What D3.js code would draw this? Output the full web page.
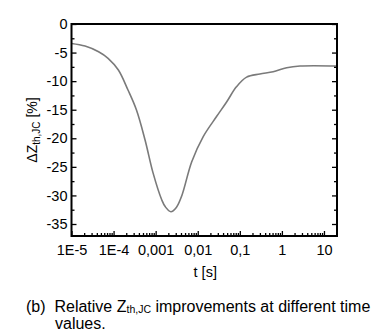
<!DOCTYPE html>
<html><head><meta charset="utf-8">
<script src="https://cdn.jsdelivr.net/npm/d3@7"></script>
<style>
html,body{margin:0;padding:0;background:#fff;}
svg{display:block;font-family:"Liberation Sans",Arial,sans-serif;}
</style></head>
<body><svg id="c" width="386" height="333"></svg>
<script>
// data
const tValues = [1e-5, 2.1e-5, 4.4e-5, 7.4e-5, 1.3e-4, 2.2e-4, 3.5e-4, 5.6e-4, 8.7e-4, 1.4e-3, 1.7e-3, 2.3e-3, 3.1e-3, 4.2e-3, 7.2e-3, 0.0135, 0.028, 0.049, 0.083, 0.145, 0.30, 0.62, 1.3, 2.7, 20.4];
const dZ      = [-3.4, -3.85, -4.85, -6.0, -8.05, -11.55, -15.05, -20.3, -26.1, -30.8, -32.0, -32.85, -32.1, -30.0, -24.1, -19.7, -16.2, -13.6, -11.0, -9.3, -8.75, -8.35, -7.65, -7.35, -7.35];
const xTickValues = [1e-5, 1e-4, 1e-3, 1e-2, 1e-1, 1, 10];
const xTickLabels = ["1E-5", "1E-4", "0,001", "0,01", "0,1", "1", "10"];
const yTickValues = [0, -5, -10, -15, -20, -25, -30, -35];
const yTickLabels = ["0", "-5", "-10", "-15", "-20", "-25", "-30", "-35"];

const svg = d3.select("#c");
const L = 71.5, R = 337, T = 24, B = 236;
const x = d3.scaleLog().domain([1e-5, 20.4]).range([L, R]);
const y = d3.scaleLinear().domain([-37.1, 0]).range([B, T]);

// minor ticks
const xMinor = [];
for (let e = -5; e <= 1; e++) for (let m = 2; m <= 9; m++) { const v = m * Math.pow(10, e); if (v <= 20.4) xMinor.push(v); }
const yMinor = d3.range(-2.5, -37.1, -5);

// curve
svg.append("path")
  .datum(tValues.map((t, i) => [t, dZ[i]]))
  .attr("fill", "none").attr("stroke", "#7a7a7a").attr("stroke-width", 1.6)
  .attr("d", d3.line().x(d => x(d[0])).y(d => y(d[1])).curve(d3.curveCatmullRom.alpha(0.5)));

// bottom axis
svg.append("g").attr("transform", `translate(0,${B})`)
  .call(d3.axisBottom(x).tickValues(xMinor).tickSize(-3).tickFormat(""));
const gx = svg.append("g").attr("transform", `translate(0,${B})`)
  .call(d3.axisBottom(x).tickValues(xTickValues).tickSize(-5).tickPadding(9)
    .tickFormat((d, i) => xTickLabels[i]));
// left axis
svg.append("g").attr("transform", `translate(${L},0)`)
  .call(d3.axisLeft(y).tickValues(yMinor).tickSize(-3).tickFormat(""));
const gy = svg.append("g").attr("transform", `translate(${L},0)`)
  .call(d3.axisLeft(y).tickValues(yTickValues).tickSize(-5).tickPadding(4)
    .tickFormat((d, i) => yTickLabels[i]));
// right axis
svg.append("g").attr("transform", `translate(${R},0)`)
  .call(d3.axisRight(y).tickValues(yTickValues).tickSize(-5).tickFormat(""));
svg.append("g").attr("transform", `translate(${R},0)`)
  .call(d3.axisRight(y).tickValues(yMinor).tickSize(-3).tickFormat(""));

svg.selectAll(".domain").remove();
svg.selectAll(".tick line").attr("stroke", "#000").attr("stroke-width", 1.3);
gx.selectAll("text").attr("font-size", 14.5).attr("fill", "#000").attr("font-family", "Liberation Sans, Arial, sans-serif");
gy.selectAll("text").attr("font-size", 14.5).attr("fill", "#000").attr("font-family", "Liberation Sans, Arial, sans-serif");

// frame
svg.append("rect").attr("x", L).attr("y", T).attr("width", R - L).attr("height", B - T)
  .attr("fill", "none").attr("stroke", "#000").attr("stroke-width", 2);

// axis titles
svg.append("text").attr("x", (L + R) / 2 + 1).attr("y", 277).attr("text-anchor", "middle")
  .attr("font-size", 14.5).text("t [s]");

const yl = svg.append("text").attr("transform", `translate(37,${(T + B) / 2}) rotate(-90)`)
  .attr("text-anchor", "middle").attr("font-size", 14);
yl.append("tspan").text("ΔZ");
yl.append("tspan").attr("font-size", 10).attr("dy", 3).text("th,JC");
yl.append("tspan").attr("dy", -3).text(" [%]");

// caption
const cap = svg.append("text").attr("x", 26).attr("y", 312).attr("font-size", 16)
  .attr("xml:space", "preserve").style("white-space", "pre");
cap.append("tspan").text("(b)\u00a0 Relative Z");
cap.append("tspan").attr("font-size", 10.5).attr("dy", 1).text("th,JC");
cap.append("tspan").attr("dy", -1).text(" improvements at different time");
svg.append("text").attr("x", 55).attr("y", 329).attr("font-size", 16).text("values.");
</script></body></html>
